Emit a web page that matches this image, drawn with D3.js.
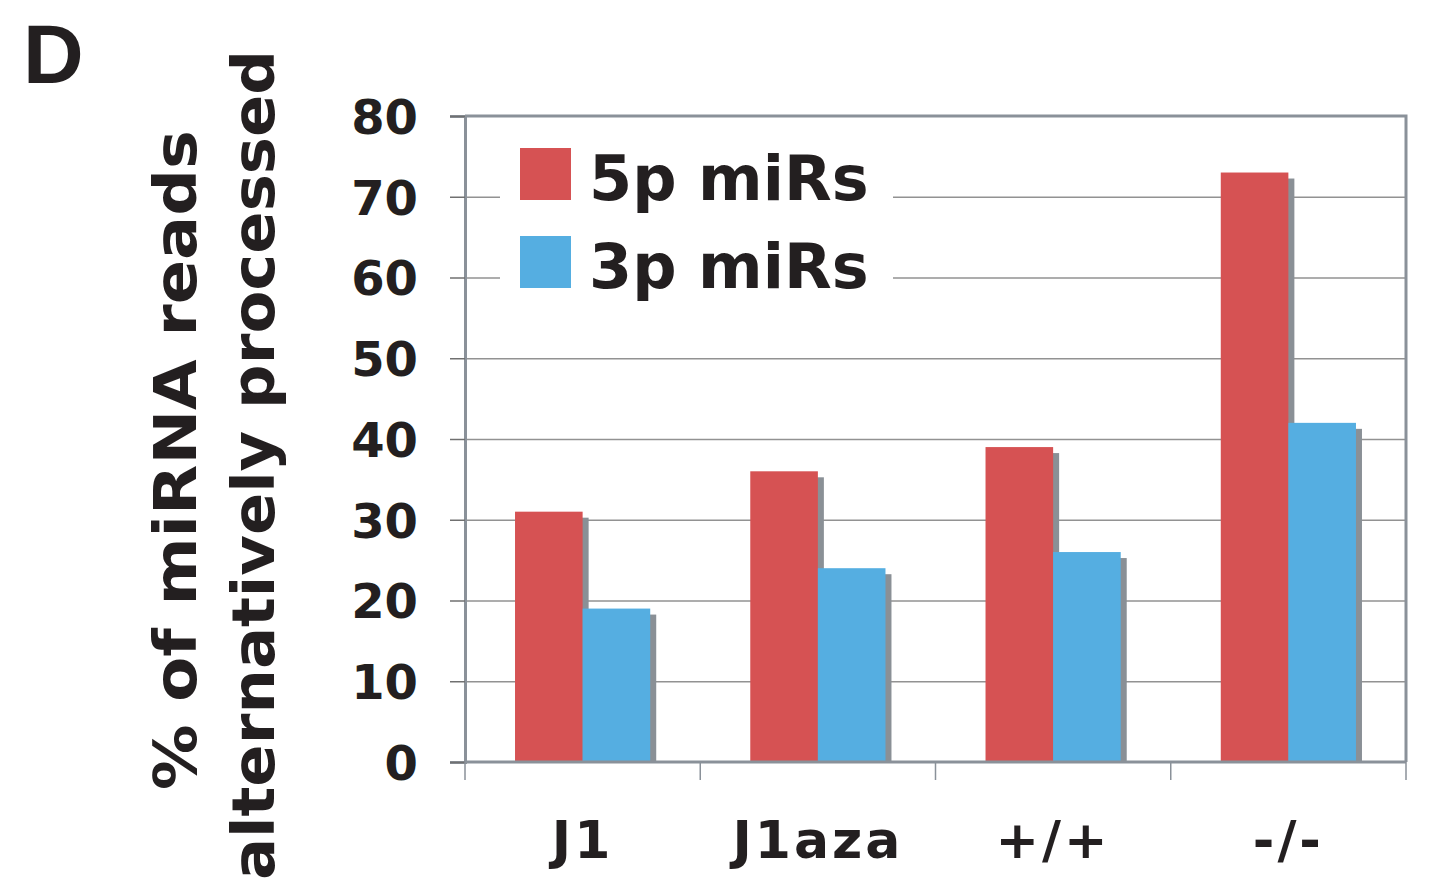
<!DOCTYPE html>
<html>
<head>
<meta charset="utf-8">
<script src="https://d3js.org/d3.v7.min.js"></script>
<style>
  body { margin: 0; background: #fff; }
  svg text { font-family: "DejaVu Sans", Verdana, sans-serif; font-weight: bold; fill: #231f20; }
</style>
</head>
<body>
<div id="chart"></div>
<script>
const categories = ["J1", "J1aza", "+/+", "-/-"];
const series = ["5p miRs", "3p miRs"];
const values5p = [31, 36, 39, 73];
const values3p = [19, 24, 26, 42];
const yTicks = [0, 10, 20, 30, 40, 50, 60, 70, 80];

const width = 1435;
const height = 883;
const margin = { left: 465, right: 29, top: 116, bottom: 121 };

const colors = { "5p miRs": "#d65253", "3p miRs": "#55aee1" };
const shadow = "#8a9096";

let svg = d3.select("#chart")
    .append("svg")
    .attr("width", width)
    .attr("height", height);

let x = d3.scaleBand()
    .domain(categories)
    .range([margin.left, width - margin.right]);

let xInner = d3.scaleBand()
    .domain(series)
    .range([0, x.bandwidth()])
    .paddingOuter(0.74)
    .paddingInner(0);

let y = d3.scaleLinear()
    .domain([0, 80])
    .range([height - margin.bottom, margin.top]);

// gridlines
svg.append("g")
    .attr("class", "grid")
    .attr("transform", `translate(${margin.left},0)`)
    .call(d3.axisLeft(y).tickValues(yTicks.slice(1, -1)).tickSize(-(width - margin.left - margin.right)).tickFormat(""))
    .call(g => g.select(".domain").remove())
    .selectAll("line")
    .attr("stroke", "#929292")
    .attr("stroke-width", 1.5);

// plot frame (top & right)
svg.append("path")
    .attr("d", `M${margin.left},${y(80)}H${width - margin.right}V${y(0)}`)
    .attr("fill", "none")
    .attr("stroke", "#8a9199")
    .attr("stroke-width", 3);

// legend background hides gridlines
svg.append("rect")
    .attr("x", 500).attr("y", 138)
    .attr("width", 393).attr("height", 165)
    .attr("fill", "#fff");

const data = categories.map((c, i) => ({ cat: c, vals: [
    { s: "5p miRs", v: values5p[i] },
    { s: "3p miRs", v: values3p[i] }
] }));

let groups = svg.selectAll(".grp")
    .data(data)
    .enter()
    .append("g")
    .attr("class", "grp")
    .attr("transform", d => `translate(${x(d.cat)},0)`);

// shadows
groups.selectAll(".shadow")
    .data(d => d.vals)
    .enter()
    .append("rect")
    .attr("class", "shadow")
    .attr("x", d => xInner(d.s) + 6)
    .attr("y", d => y(d.v) + 6)
    .attr("width", xInner.bandwidth())
    .attr("height", d => y(0) - y(d.v) - 6)
    .attr("fill", shadow);

groups.selectAll(".bar")
    .data(d => d.vals)
    .enter()
    .append("rect")
    .attr("class", "bar")
    .attr("x", d => xInner(d.s))
    .attr("y", d => y(d.v))
    .attr("width", xInner.bandwidth())
    .attr("height", d => y(0) - y(d.v))
    .attr("fill", d => colors[d.s]);

// y axis
let yAxis = svg.append("g")
    .attr("transform", `translate(${margin.left},0)`)
    .call(d3.axisLeft(y).tickValues(yTicks).tickSize(15).tickPadding(32));
yAxis.select(".domain").attr("stroke", "#8a9199").attr("stroke-width", 3);
yAxis.selectAll(".tick line").attr("stroke", "#707070").attr("stroke-width", 1.5);
yAxis.selectAll(".tick text").style("font-size", "48px").attr("dy", "0.36em");

// x axis
let xAxis = svg.append("g")
    .attr("transform", `translate(0,${y(0)})`);
xAxis.append("line")
    .attr("x1", margin.left).attr("x2", width - margin.right)
    .attr("stroke", "#8a9199").attr("stroke-width", 3);
const bounds = categories.map(c => x(c)).concat([x(categories[categories.length - 1]) + x.bandwidth()]);
xAxis.selectAll(".xt")
    .data(bounds)
    .enter()
    .append("line")
    .attr("x1", d => d).attr("x2", d => d)
    .attr("y1", 0).attr("y2", 18)
    .attr("stroke", "#8a9199").attr("stroke-width", 1.5);
xAxis.selectAll(".xl")
    .data(categories)
    .enter()
    .append("text")
    .attr("x", d => x(d) + x.bandwidth() / 2)
    .attr("y", 96)
    .attr("text-anchor", "middle")
    .style("font-size", "52px")
    .style("letter-spacing", "3px")
    .text(d => d);

// legend
let legend = svg.append("g");
series.forEach((s, i) => {
    legend.append("rect")
        .attr("x", 520).attr("y", 148 + i * 88)
        .attr("width", 51).attr("height", 52)
        .attr("fill", colors[s]);
    legend.append("text")
        .attr("x", 589).attr("y", 200 + i * 88)
        .style("font-size", "62px")
        .text(s);
});

// y title
svg.append("text")
    .attr("transform", `translate(196,460) rotate(-90)`)
    .attr("text-anchor", "middle")
    .attr("textLength", 660)
    .attr("lengthAdjust", "spacingAndGlyphs")
    .style("font-size", "58px")
    .text("% of miRNA reads");
svg.append("text")
    .attr("transform", `translate(274,465) rotate(-90)`)
    .attr("text-anchor", "middle")
    .attr("textLength", 830)
    .attr("lengthAdjust", "spacingAndGlyphs")
    .style("font-size", "58px")
    .text("alternatively processed");

// panel letter
svg.append("text")
    .attr("x", 23).attr("y", 83)
    .style("font-size", "84px")
    .style("font-family", "'Liberation Sans', Arial, sans-serif")
    .text("D");
</script>
</body>
</html>
